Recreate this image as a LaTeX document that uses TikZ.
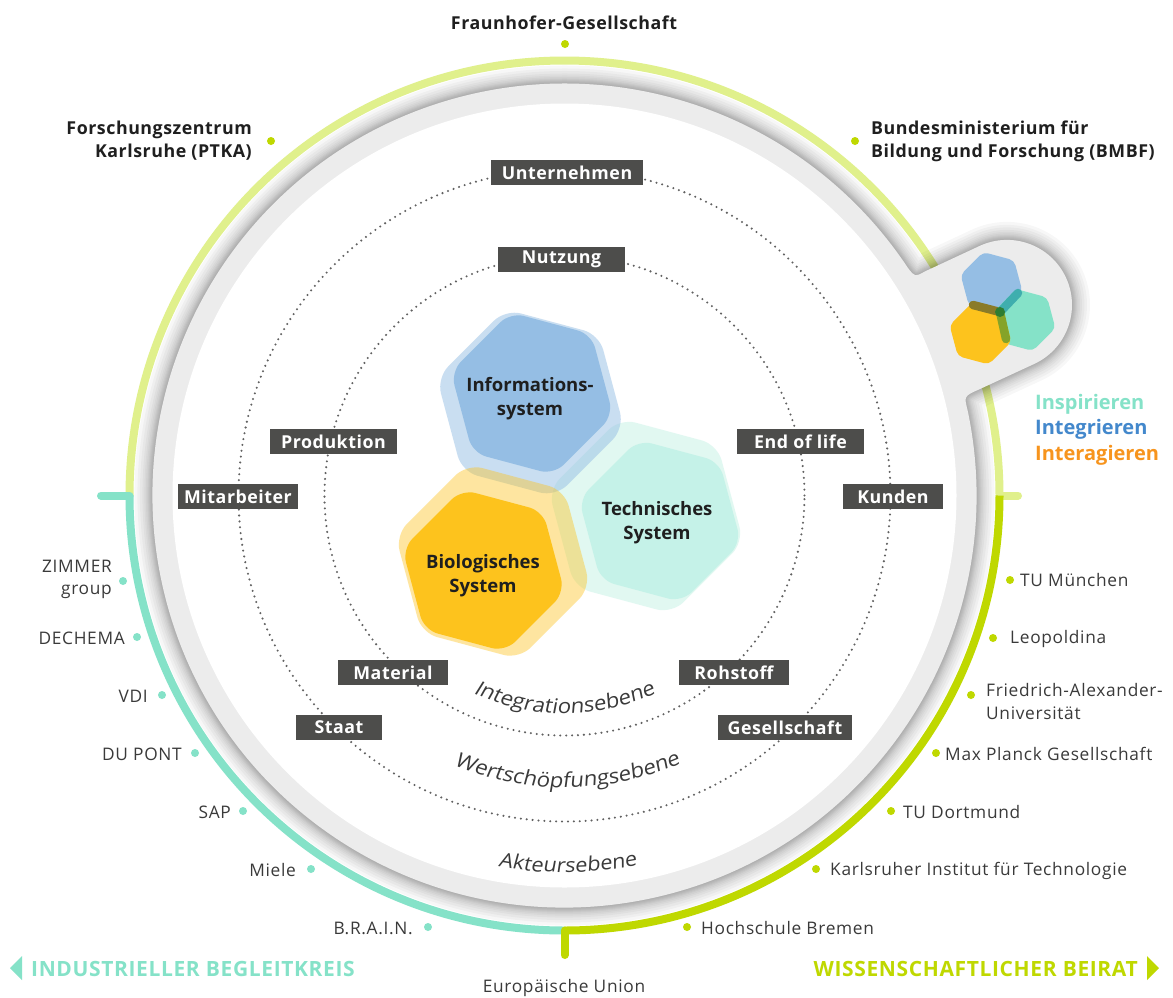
\documentclass[tikz,border=0pt]{standalone}
\usepackage{fontspec}
\usetikzlibrary{decorations.text}
\setmainfont{Open Sans}
\newfontfamily\spaced[LetterSpace=4]{Open Sans}
\newfontfamily\spacedb[LetterSpace=3,BoldFont={Open Sans Bold}]{Open Sans}
\newfontfamily\curvf[FakeStretch=1.08,FakeSlant=0.14]{Open Sans}
\definecolor{lime}{HTML}{BFD800}
\definecolor{limel}{HTML}{E0F08C}
\definecolor{mint}{HTML}{85E2C8}
\definecolor{boxg}{HTML}{4D4D4B}
\definecolor{bandg}{HTML}{ECECEC}
\definecolor{txt}{HTML}{3A3A3A}
\definecolor{hblue}{HTML}{95BEE4}
\definecolor{hteal}{HTML}{C5F2E8}
\definecolor{hyell}{HTML}{FDC31D}
\tikzset{
  ring/.style={line width=8pt,line cap=round},
  dotring/.style={draw=black!62,line width=2.3pt,line cap=round,dash pattern=on 0pt off 5.9pt},
  boxl/.style={fill=boxg,text=white,inner sep=0pt,minimum height=25pt,
    font=\spacedb\bfseries\fontsize{17.8}{20}\selectfont},
  tl/.style={text=txt,inner sep=0pt,align=right,anchor=east,font=\spaced\fontsize{17.3}{22}\selectfont},
  tr/.style={text=txt,inner sep=0pt,align=left,anchor=west,font=\spaced\fontsize{17.3}{23}\selectfont},
  tb/.style={text=black!88,inner sep=0pt,font=\spacedb\bfseries\fontsize{17.8}{23}\selectfont},
  hexl/.style={text=black!88,inner sep=0pt,align=center,font=\bfseries\fontsize{18.5}{24}\selectfont},
  dotg/.style={circle,fill=lime,inner sep=0pt,minimum size=8pt},
  dotm/.style={circle,fill=mint,inner sep=0pt,minimum size=8pt},
  legend/.style={inner sep=0pt,anchor=west,font=\bfseries\fontsize{20}{22}\selectfont},
  foot/.style={inner sep=0pt,font=\spacedb\bfseries\fontsize{21}{22}\selectfont},
  curved/.style={decorate,decoration={text along path,text align=center,text color=txt,text={#1}}},
}
\newcommand{\hexa}[5]{\fill[shift={(#1,#2)},rounded corners=#4,#5]
  (45:#3)--(105:#3)--(165:#3)--(225:#3)--(285:#3)--(345:#3)--cycle;}
\newcommand{\bandpath}{([shift={(c)}]12:412pt) arc[start angle=12,end angle=-326.5,radius=412pt]
  .. controls (915,277) .. (925,271.4) -- (979.5,246)
  arc[start angle=115,end angle=-65,radius=65pt]
  -- (980,389) .. controls (964,396) .. cycle}
\begin{document}
\begin{tikzpicture}[x=1pt,y=-1pt]
\useasboundingbox (0,0) rectangle (1173,997);
\fill[white] (0,0) rectangle (1173,997);
\coordinate (c) at (564.5,495.5);
% coloured outer ring
\coordinate (rl) at (129.5,495.5);
\coordinate (rr) at (999.5,495.5);
\coordinate (rb) at (564.5,930.5);
\coordinate (tl) at (101,495.5);
\coordinate (tr) at (1018,495.5);
\coordinate (tb) at (564.5,955);
\draw[ring,limel] (tr)--(rr);
\draw[ring,limel] (rr) arc[start angle=0,end angle=180,radius=435pt];
\draw[ring,mint] (tl)--(rl);
\draw[line width=8pt,mint] (rl) arc[start angle=180,end angle=270,radius=435pt];
\draw[line width=8pt,lime] (rb) arc[start angle=270,end angle=360,radius=435pt];
\draw[ring,lime] (rb)--(tb);
% soft shadow
\foreach \w in {2,4,6,8,10,13,16,20,25,30,36}{
  \draw[black,opacity=0.03,line width=\w pt,line join=round] \bandpath;
}
% grey band with bubble
\fill[bandg] \bandpath;
\fill[white] (c) circle[radius=392pt];
% dotted rings
\draw[dotring] (c) circle[radius=326pt];
\draw[dotring] (c) circle[radius=240pt];
% hexagons
\hexa{646}{516}{101pt}{16pt}{mint,opacity=.24}
\hexa{530.5}{403}{97pt}{16pt}{hblue,opacity=.5}
\hexa{493}{561.5}{101pt}{16pt}{hyell,opacity=.42}
\hexa{660}{521}{84pt}{14pt}{hteal}
\hexa{532}{393.5}{84pt}{14pt}{hblue}
\hexa{483.5}{570.5}{84pt}{14pt}{hyell}
\node[hexl] (info) at (530,398.5) {Informations-\\system};
\node[hexl] (tech) at (657,523) {Technisches\\System};
\node[hexl] (bio) at (483,575.5) {Biologisches\\System};
% logo
\hexa{991.5}{283}{32pt}{5pt}{hblue}
\hexa{1024.5}{320}{32pt}{5pt}{mint}
\hexa{980.5}{333.5}{32pt}{5pt}{hyell}
\coordinate (l0) at (1000,312);
\coordinate (l1) at (973,305);
\coordinate (l2) at (1018,293);
\coordinate (l3) at (1006,339);
\draw[line width=8.5pt,line cap=round,color={rgb,255:red,138;green,123;blue,40}] (l1)--(l0);
\draw[line width=8.5pt,line cap=round,color={rgb,255:red,63;green,174;blue,174}] (l2)--(l0);
\draw[line width=8.5pt,line cap=round,color={rgb,255:red,133;green,163;blue,40}] (l3)--(l0);
\fill[color={rgb,255:red,46;green,125;blue,50}] (l0) circle[radius=5pt];
% box labels
\node[boxl,minimum width=152pt] (unt) at (567,172.5) {Unternehmen};
\node[boxl,minimum width=127pt] (nut) at (561.5,259.5) {Nutzung};
\node[boxl,minimum width=127pt] (pro) at (333.5,441.5) {Produktion};
\node[boxl,minimum width=127pt] (eol) at (800.5,441.5) {End of life};
\node[boxl,minimum width=120pt] (mit) at (238,496.5) {Mitarbeiter};
\node[boxl,minimum width=100pt] (kun) at (893,496.5) {Kunden};
\node[boxl,minimum width=110pt] (mat) at (393,672.5) {Material};
\node[boxl,minimum width=110pt] (roh) at (734,672.5) {Rohstoff};
\node[boxl,minimum width=86pt] (sta) at (339,727.5) {Staat};
\node[boxl,minimum width=134pt] (ges) at (785,727.5) {Gesellschaft};
% curved labels
\path[curved={|\curvf\fontsize{20.5}{22}\selectfont|Integrationsebene}]
  ([shift={(c)}]240:218pt) arc[start angle=240,end angle=300,radius=218pt];
\path[curved={|\curvf\fontsize{20.5}{22}\selectfont|Wertschöpfungsebene}]
  ([shift={(c)}]240.6:292pt) arc[start angle=240.6,end angle=300.6,radius=292pt];
\path[curved={|\curvf\fontsize{20}{22}\selectfont|Akteursebene}]
  ([shift={(c)}]245.5:377pt) arc[start angle=245.5,end angle=295.5,radius=377pt];
% top group
\node[dotg] (d1) at (565,44) {};
\node[dotg] (d2) at (271,141) {};
\node[dotg] (d3) at (855,141) {};
\node[tb] (fh) at (564,23) {Fraunhofer-Gesellschaft};
\node[tb,align=right,anchor=east] (fz) at (252,140.5) {Forschungszentrum\\Karlsruhe (PTKA)};
\node[tb,align=left,anchor=west] (bm) at (871,141) {Bundesministerium für\\Bildung und Forschung (BMBF)};
% legend
\node[legend,text=mint] (l_a) at (1035,404.5) {Inspirieren};
\node[legend,text={rgb,255:red,67;green,136;blue,204}] (l_b) at (1035,429.5) {Integrieren};
\node[legend,text={rgb,255:red,247;green,148;blue,29}] (l_c) at (1035,455.5) {Interagieren};
% left group
\node[dotm] (a1) at (123,581) {};
\node[dotm] (a2) at (137,637) {};
\node[dotm] (a3) at (162,695) {};
\node[dotm] (a4) at (195,753) {};
\node[dotm] (a5) at (243,811) {};
\node[dotm] (a6) at (311,869) {};
\node[dotm] (a7) at (428,927) {};
\node[tl] (t1) at (112,579) {ZIMMER\\group};
\node[tl] (t2) at (125,638) {DECHEMA};
\node[tl] (t3) at (148,696) {VDI};
\node[tl] (t4) at (182,754) {DU PONT};
\node[tl] (t5) at (231,812) {SAP};
\node[tl] (t6) at (296,870) {Miele};
\node[tl] (t7) at (413,928) {B.R.A.I.N.};
% right group
\node[dotg] (b1) at (1010,580) {};
\node[dotg] (b2) at (993,638) {};
\node[dotg] (b3) at (971,695) {};
\node[dotg] (b4) at (936,753) {};
\node[dotg] (b5) at (891,811) {};
\node[dotg] (b6) at (816,869) {};
\node[dotg] (b7) at (687,927) {};
\node[tr] (r1) at (1020,580) {TU München};
\node[tr] (r2) at (1010,639) {Leopoldina};
\node[tr] (r3) at (986,701.5) {Friedrich-Alexander-\\Universität};
\node[tr] (r4) at (945,754) {Max Planck Gesellschaft};
\node[tr] (r5) at (903,812) {TU Dortmund};
\node[tr] (r6) at (830,871) {Karlsruher Institut für Technologie};
\node[tr] (r7) at (701,928) {Hochschule Bremen};
\node[tl,anchor=center] (eu) at (564,988) {Europäische Union};
% footer
\fill[mint] (10,968) -- (22,956) -- (22,980) -- cycle;
\fill[lime] (1159,968) -- (1147,956) -- (1147,980) -- cycle;
\node[foot,text=mint,anchor=west] (ind) at (31,969) {INDUSTRIELLER BEGLEITKREIS};
\node[foot,text=lime,anchor=east] (wis) at (1138,969) {WISSENSCHAFTLICHER BEIRAT};
\end{tikzpicture}
\end{document}
